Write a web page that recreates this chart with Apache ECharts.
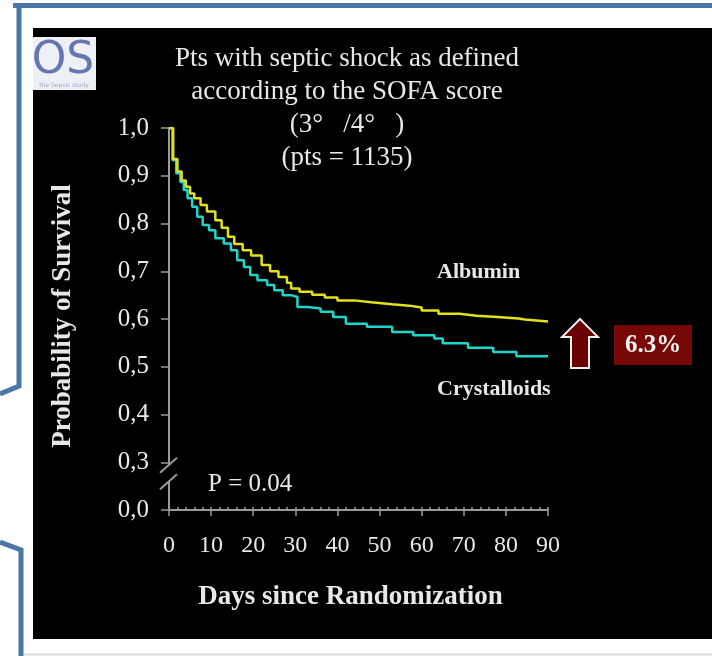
<!DOCTYPE html>
<html>
<head>
<meta charset="utf-8">
<script src="https://cdn.jsdelivr.net/npm/echarts@6/dist/echarts.min.js"></script>
<style>
  html, body { margin: 0; padding: 0; background: #fff; }
  #main { width: 712px; height: 656px; }
</style>
</head>
<body>
<div id="main"></div>
<script>
// Kaplan-Meier survival, pts with septic shock (SOFA 3/4)
const albuminDays = [0, 1, 2, 3, 4, 5, 6, 7.5, 9, 11, 12.5, 14, 15.5, 17.5, 19.5, 22, 24, 26, 28, 29, 31, 34, 37, 40, 44, 48, 53, 57, 60, 64, 69, 73, 78, 83, 84.5, 90]
const albuminSurv = [1.0, 0.935, 0.909, 0.89, 0.877, 0.863, 0.853, 0.839, 0.825, 0.807, 0.791, 0.772, 0.757, 0.744, 0.733, 0.713, 0.700, 0.688, 0.676, 0.664, 0.657, 0.651, 0.645, 0.639, 0.635, 0.631, 0.628, 0.624, 0.618, 0.611, 0.607, 0.604, 0.601, 0.599, 0.595, 0.595]

const crystDays = [0, 0.8, 1.7, 2.7, 3.5, 4.4, 5.5, 6.7, 8, 9.5, 11, 13, 14.7, 16.2, 17.8, 19.3, 21, 23.3, 25, 27, 29, 30.5, 33, 36, 39, 42, 47, 53, 58, 63, 65, 71, 77, 82.5, 90]
const crystSurv = [1.0, 0.933, 0.905, 0.887, 0.870, 0.853, 0.835, 0.814, 0.797, 0.786, 0.769, 0.758, 0.744, 0.723, 0.709, 0.692, 0.681, 0.671, 0.660, 0.650, 0.646, 0.625, 0.622, 0.615, 0.604, 0.590, 0.584, 0.573, 0.566, 0.559, 0.549, 0.540, 0.531, 0.522, 0.521]

// y axis is broken: bottom tick stands for 0,0
const yTickLabels = ['0,0', '0,3', '0,4', '0,5', '0,6', '0,7', '0,8', '0,9', '1,0']
const xTickLabels = ['0', '10', '20', '30', '40', '50', '60', '70', '80', '90']

const titleLines = ['Pts with septic shock as defined', 'according to the SOFA score', '(3°   /4°   )', '(pts = 1135)']
const diffLabel = '6.3%'
const pValue = 'P = 0.04'

const serif = 'Liberation Serif'
const fg = '#e8e8e8'
const axisGray = '#9a9a9a'

function pairs(xs, ys) {
  return xs.map((x, i) => [x, ys[i]])
}

const chart = echarts.init(document.getElementById('main'), null, { renderer: 'canvas' })

var option = {
  backgroundColor: '#ffffff',
  animation: false,
  title: {
    text: titleLines.join('\n'),
    left: 347,
    top: 42,
    padding: 0,
    textAlign: 'center',
    textStyle: {
      fontFamily: serif,
      fontSize: 27,
      fontWeight: 'normal',
      lineHeight: 33,
      color: fg
    }
  },
  grid: {
    left: 169,
    right: 164,
    top: 128,
    bottom: 146
  },
  xAxis: [{
    type: 'value',
    min: 0,
    max: 90,
    interval: 10,
    position: 'bottom',
    name: 'Days since Randomization',
    nameLocation: 'middle',
    nameGap: 74,
    nameTextStyle: {
      fontFamily: serif,
      fontSize: 27,
      fontWeight: 'bold',
      color: fg,
      padding: [0, 16, 0, 0]
    },
    axisLine: { lineStyle: { color: axisGray, width: 2 } },
    axisTick: { show: true, inside: false, length: 6, lineStyle: { color: axisGray, width: 1.5 } },
    axisLabel: {
      margin: 24,
      fontFamily: serif,
      fontSize: 24,
      color: fg,
      formatter: (v) => xTickLabels[Math.round(v / 10)]
    },
    splitLine: { show: false }
  }, {
    // minor ticks every 2 days, pointing up
    type: 'value',
    min: 0,
    max: 90,
    interval: 2,
    position: 'bottom',
    axisLine: { show: false },
    axisTick: { show: true, inside: true, length: 3, lineStyle: { color: axisGray, width: 1.5 } },
    axisLabel: { show: false },
    splitLine: { show: false }
  }],
  yAxis: {
    type: 'value',
    min: 0.2,
    max: 1.0,
    interval: 0.1,
    name: 'Probability of Survival',
    nameLocation: 'middle',
    nameRotate: 90,
    nameGap: 92,
    nameTextStyle: {
      fontFamily: serif,
      fontSize: 27,
      fontWeight: 'bold',
      color: fg,
      padding: [0, 0, 0, 6]
    },
    axisLine: { show: true, lineStyle: { color: axisGray, width: 2 } },
    axisTick: { show: true, inside: false, length: 8, lineStyle: { color: axisGray, width: 1.5 } },
    axisLabel: {
      margin: 20,
      fontFamily: serif,
      fontSize: 25,
      color: fg,
      formatter: (v) => yTickLabels[Math.round((v - 0.2) / 0.1)]
    },
    splitLine: { show: false }
  },
  series: [{
    name: 'Crystalloids',
    type: 'line',
    step: 'end',
    showSymbol: false,
    symbol: 'none',
    data: pairs(crystDays, crystSurv),
    lineStyle: { color: '#1fd6cc', width: 2.5 },
    z: 3
  }, {
    name: 'Albumin',
    type: 'line',
    step: 'end',
    showSymbol: false,
    symbol: 'none',
    data: pairs(albuminDays, albuminSurv),
    lineStyle: { color: '#e2e21c', width: 2.5 },
    z: 4
  }],
  graphic: [
    // slide frame
    { id: 'panel', type: 'rect', z: -10, shape: { x: 33, y: 28, width: 679, height: 611 }, style: { fill: '#000' } },
    { id: 'frameTop', type: 'polyline', z: -5, shape: { points: [[13, 5.5], [712, 5.5]] }, style: { stroke: '#4a76a8', lineWidth: 5, fill: null } },
    { id: 'frameLeft', type: 'polyline', z: -5, shape: { points: [[19, 3], [19, 386], [0, 394]] }, style: { stroke: '#4a76a8', lineWidth: 5, fill: null } },
    { id: 'frameLeft2', type: 'polyline', z: -5, shape: { points: [[0, 542], [21, 550], [21, 656]] }, style: { stroke: '#4a76a8', lineWidth: 5, fill: null } },
    { id: 'frameBottom', type: 'line', z: -5, shape: { x1: 24, y1: 654.5, x2: 712, y2: 654.5 }, style: { stroke: '#d5dbe2', lineWidth: 2 } },
    // logo
    { id: 'logoBox', type: 'rect', z: 10, shape: { x: 33, y: 37, width: 63, height: 53 }, style: { fill: '#eef0f6' } },
    { id: 'logoText', type: 'text', z: 11, style: { x: 63, y: 62, text: 'OS', fill: '#6477b0', font: '44px "DejaVu Sans"', textAlign: 'center', textVerticalAlign: 'middle' } },
    { id: 'logoSub', type: 'text', z: 11, style: { x: 64, y: 85, text: 'the Sepsis study', fill: '#9aa6c4', font: '6px "DejaVu Sans"', textAlign: 'center', textVerticalAlign: 'middle' } },
    // annotations
    { id: 'albLabel', type: 'text', z: 20, style: { x: 437, y: 272, text: 'Albumin', fill: fg, font: 'bold 22px "Liberation Serif"', textVerticalAlign: 'middle' } },
    { id: 'crystLabel', type: 'text', z: 20, style: { x: 437, y: 389, text: 'Crystalloids', fill: fg, font: 'bold 22px "Liberation Serif"', textVerticalAlign: 'middle' } },
    { id: 'pval', type: 'text', z: 20, style: { x: 208, y: 484, text: pValue, fill: fg, font: '25px "Liberation Serif"', textVerticalAlign: 'middle' } },
    { id: 'arrow', type: 'polygon', z: 20, shape: { points: [[580, 319], [598, 337], [589, 337], [589, 368], [571, 368], [571, 337], [562, 337]] }, style: { fill: '#6b0000', stroke: '#eeeeee', lineWidth: 2 } },
    { id: 'diffBox', type: 'rect', z: 20, shape: { x: 614, y: 325, width: 78, height: 40 }, style: { fill: '#760808' } },
    { id: 'diffText', type: 'text', z: 21, style: { x: 653, y: 346, text: diffLabel, fill: '#f2f2f2', font: 'bold 25px "Liberation Serif"', textAlign: 'center', textVerticalAlign: 'middle' } }
  ]
};

chart.setOption(option);

// break marks on the y axis, between 0,3 and 0,0
const ax = chart.convertToPixel({ xAxisIndex: 0 }, 0)
const yb1 = chart.convertToPixel({ yAxisIndex: 0 }, 0.295)
const yb2 = chart.convertToPixel({ yAxisIndex: 0 }, 0.26)
chart.setOption({
  graphic: [
    { id: 'breakGap', type: 'rect', z: 30, shape: { x: ax - 3, y: yb1, width: 6, height: yb2 - yb1 }, style: { fill: '#000' } },
    { id: 'break1', type: 'line', z: 31, shape: { x1: ax - 9, y1: yb1 + 8, x2: ax + 8, y2: yb1 - 7 }, style: { stroke: axisGray, lineWidth: 2 } },
    { id: 'break2', type: 'line', z: 31, shape: { x1: ax - 9, y1: yb2 + 8, x2: ax + 8, y2: yb2 - 7 }, style: { stroke: axisGray, lineWidth: 2 } }
  ]
});
</script>
</body>
</html>
